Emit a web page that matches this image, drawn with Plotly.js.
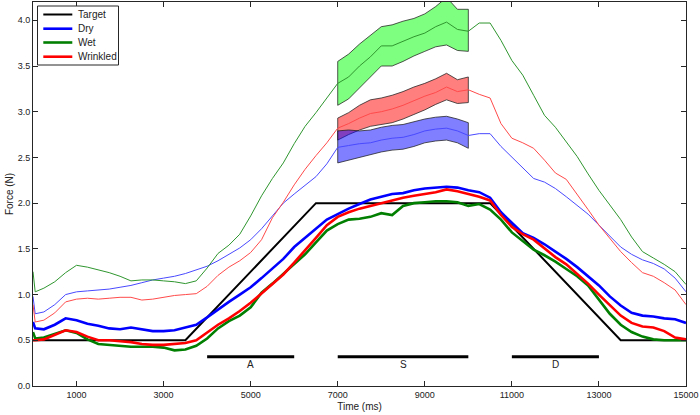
<!DOCTYPE html>
<html>
<head>
<meta charset="utf-8">
<script src="https://cdn.plot.ly/plotly-3.0.1.min.js"></script>
<style>html,body{margin:0;padding:0;background:#fff;}#chart{width:700px;height:415px;}</style>
</head>
<body>
<div id="chart"></div>
<script>
// ---- Data ----
const time = [0,50,250,500,750,1000,1250,1500,1750,2000,2250,2500,2750,3000,3250,3500,3750,4000,4250,4500,4750,5000,5250,5500,5750,6000,6250,6500,6750,7000,7250,7500,7750,8000,8250,8500,8750,9000,9250,9500,9750,10000,10250,10500,10750,11000,11250,11500,11750,12000,12250,12500,12750,13000,13250,13500,13750,14000,14250,14500,14750,15000];

const targetTime = [0,3500,6500,10500,13500,15000];
const targetForce = [0.5,0.5,2.0,2.0,0.5,0.5];

// thick traces (legend entries)
const dryThick = [0.70,0.63,0.62,0.67,0.74,0.72,0.68,0.66,0.63,0.62,0.64,0.62,0.60,0.60,0.61,0.64,0.67,0.75,0.84,0.92,1.00,1.08,1.18,1.28,1.39,1.52,1.62,1.73,1.82,1.88,1.94,1.99,2.04,2.07,2.10,2.11,2.14,2.16,2.17,2.18,2.17,2.14,2.12,2.06,1.90,1.78,1.67,1.62,1.55,1.47,1.39,1.30,1.20,1.10,0.98,0.88,0.80,0.77,0.76,0.74,0.73,0.69];
const wetThick = [0.59,0.52,0.53,0.57,0.61,0.58,0.51,0.46,0.45,0.44,0.43,0.43,0.43,0.42,0.39,0.40,0.44,0.52,0.63,0.71,0.77,0.86,1.02,1.12,1.23,1.33,1.44,1.57,1.70,1.77,1.82,1.83,1.85,1.89,1.87,1.97,2.00,2.01,2.02,2.02,2.01,1.97,1.99,1.93,1.82,1.68,1.58,1.49,1.43,1.36,1.28,1.20,1.10,0.94,0.79,0.67,0.59,0.54,0.51,0.50,0.50,0.50];
const wrinkledThick = [0.50,0.50,0.51,0.56,0.61,0.59,0.54,0.50,0.50,0.49,0.48,0.46,0.45,0.45,0.46,0.47,0.50,0.58,0.67,0.74,0.82,0.91,1.01,1.11,1.22,1.35,1.48,1.62,1.76,1.85,1.90,1.94,1.97,2.00,2.03,2.06,2.08,2.10,2.12,2.15,2.13,2.10,2.07,2.03,1.87,1.74,1.66,1.60,1.50,1.41,1.33,1.23,1.12,1.00,0.88,0.77,0.69,0.65,0.64,0.60,0.53,0.51];

// thin traces
const dryThin = [0.98,0.79,0.81,0.89,1.00,1.03,1.04,1.05,1.06,1.08,1.10,1.13,1.16,1.18,1.20,1.23,1.27,1.31,1.37,1.44,1.51,1.60,1.72,1.86,2.00,2.10,2.20,2.29,2.43,2.61,2.63,2.65,2.66,2.69,2.71,2.72,2.75,2.79,2.81,2.82,2.79,2.74,2.76,2.76,2.62,2.50,2.38,2.27,2.23,2.16,2.07,1.98,1.88,1.76,1.64,1.52,1.44,1.38,1.34,1.28,1.18,1.03];
const wetThin = [1.25,1.03,1.07,1.14,1.24,1.32,1.30,1.27,1.24,1.20,1.15,1.16,1.16,1.15,1.14,1.12,1.15,1.29,1.45,1.54,1.66,1.86,2.08,2.27,2.44,2.65,2.84,2.99,3.15,3.31,3.38,3.50,3.60,3.72,3.72,3.77,3.82,3.86,3.93,3.98,3.90,3.88,3.97,3.97,3.78,3.56,3.40,3.18,2.96,2.83,2.67,2.51,2.32,2.14,1.98,1.82,1.63,1.47,1.40,1.33,1.25,1.11];
const wrinkledThin = [0.89,0.70,0.72,0.80,0.92,0.95,0.96,0.95,0.96,0.97,0.97,0.94,0.95,0.97,0.99,1.00,1.01,1.09,1.21,1.30,1.37,1.46,1.60,1.84,2.01,2.20,2.37,2.52,2.66,2.82,2.87,2.93,2.98,3.00,3.03,3.07,3.12,3.17,3.21,3.27,3.22,3.24,3.19,3.15,2.87,2.71,2.66,2.60,2.47,2.33,2.26,2.10,1.93,1.76,1.61,1.47,1.35,1.24,1.20,1.13,1.05,0.89];

// shaded bands over the S window
const bandTime = [7000,7250,7500,7750,8000,8250,8500,8750,9000,9250,9500,9750,10000];
const wetUpper = [3.55,3.63,3.74,3.83,3.93,3.95,3.99,4.02,4.07,4.15,4.25,4.12,4.12];
const wetLower = [3.07,3.14,3.27,3.38,3.50,3.50,3.55,3.61,3.66,3.71,3.73,3.67,3.66];
const wrinkledUpper = [2.93,2.99,3.07,3.13,3.15,3.18,3.22,3.27,3.31,3.36,3.42,3.35,3.38];
const wrinkledLower = [2.69,2.75,2.80,2.84,2.86,2.88,2.92,2.97,3.02,3.08,3.13,3.09,3.10];
const dryUpper = [2.79,2.80,2.79,2.80,2.83,2.85,2.86,2.89,2.92,2.94,2.95,2.92,2.88];
const dryLower = [2.44,2.47,2.50,2.53,2.56,2.58,2.59,2.62,2.66,2.68,2.69,2.66,2.60];

// phase segments
const segLabels = ['A','S','D'];
const segStart = [4000,7000,11000];
const segEnd = [6000,10000,13000];

// legend entries
const legendNames = ['Target','Dry','Wet','Wrinkled'];
const legendColors = ['#000000','#0000ff','#007f00','#ff0000'];
const legendWidths = [2, 2.6, 2.6, 2.6];

// ---- Build traces ----
const FONT = 'Liberation Sans, Arial, sans-serif';
const SEG_Y = 0.32, LABEL_Y = 0.235;
const traces = [];
traces.push({x: targetTime, y: targetForce, type:'scatter', mode:'lines', name:legendNames[0], showlegend:false, line:{color:legendColors[0], width:legendWidths[0]}});
traces.push({x: time, y: dryThick, type:'scatter', mode:'lines', name:legendNames[1], showlegend:false, line:{color:legendColors[1], width:legendWidths[1]}});
traces.push({x: time, y: wetThick, type:'scatter', mode:'lines', name:legendNames[2], showlegend:false, line:{color:legendColors[2], width:legendWidths[2]}});
traces.push({x: time, y: wrinkledThick, type:'scatter', mode:'lines', name:legendNames[3], showlegend:false, line:{color:legendColors[3], width:legendWidths[3]}});

function band(up, lo, color){
  const xs = bandTime.concat(bandTime.slice().reverse(), [bandTime[0]]);
  const ys = up.concat(lo.slice().reverse(), [up[0]]);
  return {x: xs, y: ys, type:'scatter', mode:'lines', fill:'toself', fillcolor: color,
          line:{color:'rgba(30,30,30,0.95)', width:0.8}, showlegend:false, hoverinfo:'skip'};
}
traces.push(band(wetUpper, wetLower, 'rgba(0,255,0,0.5)'));
traces.push(band(wrinkledUpper, wrinkledLower, 'rgba(255,0,0,0.5)'));
traces.push(band(dryUpper, dryLower, 'rgba(0,0,255,0.5)'));

traces.push({x: time, y: dryThin, type:'scatter', mode:'lines', showlegend:false, line:{color:'#4a4aff', width:1}});
traces.push({x: time, y: wetThin, type:'scatter', mode:'lines', showlegend:false, line:{color:'#2f962f', width:1}});
traces.push({x: time, y: wrinkledThin, type:'scatter', mode:'lines', showlegend:false, line:{color:'#ff4a4a', width:1}});

for (let i = 0; i < segLabels.length; i++) {
  traces.push({x:[segStart[i], segEnd[i]], y:[SEG_Y, SEG_Y], type:'scatter', mode:'lines', showlegend:false,
               line:{color:'#000000', width:3}, hoverinfo:'skip'});
}
const annotations = segLabels.map((lab, i) => ({
  x: (segStart[i] + segEnd[i]) / 2, y: LABEL_Y, xref:'x', yref:'y', text: lab, showarrow:false,
  font:{family:FONT, size:10, color:'#222'}
}));

// ---- Legend box drawn in paper coordinates (compact, MATLAB-like) ----
const M = {l:33, r:14, t:2, b:29}, W = 700, H = 415;
const pw = W - M.l - M.r, ph = H - M.t - M.b;
const px2x = p => (p - M.l) / pw;
const py2y = p => (H - M.b - p) / ph;
const shapes = [];
shapes.push({type:'rect', xref:'paper', yref:'paper', x0:px2x(37.5), x1:px2x(118.5), y0:py2y(65), y1:py2y(6),
  line:{color:'#262626', width:1}, fillcolor:'#ffffff', layer:'above'});
const rowY = [14.5, 28.7, 42.5, 56.7];
legendNames.forEach((nm, i) => {
  shapes.push({type:'line', xref:'paper', yref:'paper', x0:px2x(43.3), x1:px2x(72.3), y0:py2y(rowY[i]), y1:py2y(rowY[i]),
    line:{color:legendColors[i], width:legendWidths[i]}, layer:'above'});
  annotations.push({xref:'paper', yref:'paper', x:px2x(75.5), y:py2y(rowY[i]), xanchor:'left', yanchor:'middle',
    text:nm, showarrow:false, font:{family:FONT, size:10, color:'#222'}});
});

const yTicks = [0,0.5,1,1.5,2,2.5,3,3.5,4];
const xTicks = [1000,3000,5000,7000,9000,11000,13000,15000];

const axisCommon = {showline:true, mirror:'allticks', linecolor:'#262626', linewidth:1, ticks:'inside',
  ticklen:5, tickcolor:'#262626', showgrid:false, zeroline:false,
  tickfont:{family:FONT, size:9, color:'#222'}};

const layout = {
  width:W, height:H,
  margin:{l:M.l, r:M.r, t:M.t, b:M.b, pad:0},
  paper_bgcolor:'#ffffff', plot_bgcolor:'#ffffff',
  showlegend:false,
  xaxis: Object.assign({}, axisCommon, {range:[0,15000], tickvals:xTicks, ticktext:xTicks.map(String),
    title:{text:'Time (ms)', font:{family:FONT, size:10, color:'#222'}, standoff:4}}),
  yaxis: Object.assign({}, axisCommon, {range:[0,4.2], tickvals:yTicks, ticktext:yTicks.map(v=>v.toFixed(1)),
    title:{text:'Force (N)', font:{family:FONT, size:10, color:'#222'}, standoff:2}}),
  shapes: shapes,
  annotations: annotations
};

Plotly.newPlot('chart', traces, layout, {displayModeBar:false, staticPlot:true});
</script>
</body>
</html>
